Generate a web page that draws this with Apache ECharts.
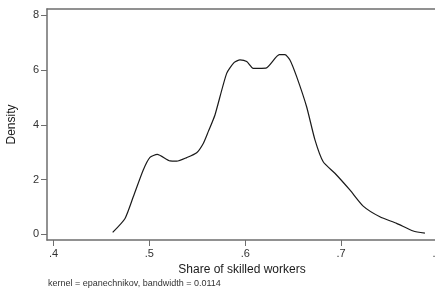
<!DOCTYPE html>
<html>
<head>
<meta charset="utf-8">
<script src="https://cdn.jsdelivr.net/npm/echarts@6/dist/echarts.min.js"></script>
<style>
  html, body { margin: 0; padding: 0; background: #fff; }
  #chart { width: 435px; height: 293px; }
</style>
</head>
<body>
<div id="chart"></div>
<script>
// kernel density
var share = [0.4617, 0.4746, 0.4832, 0.4936, 0.5006, 0.5082, 0.5215, 0.5285, 0.5389, 0.5493,
             0.5562, 0.5614, 0.5684, 0.5806, 0.5885, 0.5945, 0.6015, 0.6083, 0.6216, 0.6355,
             0.6414, 0.6466, 0.6536, 0.6640, 0.6727, 0.6813, 0.6935, 0.7091, 0.7230, 0.7404,
             0.7579, 0.7752, 0.7874];
var density = [0.07, 0.58, 1.37, 2.35, 2.81, 2.92, 2.68, 2.67, 2.80, 2.98,
               3.32, 3.75, 4.36, 5.88, 6.28, 6.37, 6.31, 6.06, 6.07, 6.56,
               6.56, 6.37, 5.76, 4.66, 3.45, 2.65, 2.23, 1.62, 1.03, 0.64,
               0.40, 0.12, 0.04];
var xTicks = [0.4, 0.5, 0.6, 0.7, 0.8];
var yTicks = [0, 2, 4, 6, 8];

var font = '"Liberation Sans", Arial, sans-serif';
var axisGray = '#6e6e6e';

var pts = [];
for (var i = 0; i < share.length; i++) {
  pts.push([share[i], density[i]]);
}

var chart = echarts.init(document.getElementById('chart'), null, { renderer: 'canvas' });
chart.setOption({
  backgroundColor: '#ffffff',
  animation: false,
  grid: { left: 47, top: 9, width: 390, height: 231, outerBoundsMode: 'none', containLabel: false },
  xAxis: [{
    type: 'value',
    min: 0.3932,
    max: 0.8,
    name: 'Share of skilled workers',
    nameLocation: 'middle',
    nameGap: 22,
    nameTextStyle: { fontFamily: font, fontSize: 12, color: '#1a1a1a' },
    axisLine: { show: true, onZero: false, lineStyle: { color: axisGray, width: 1.5 } },
    axisTick: { show: true, length: 6, customValues: xTicks, lineStyle: { color: axisGray } },
    axisLabel: {
      customValues: xTicks,
      margin: 8,
      fontFamily: font, fontSize: 11, color: '#333',
      formatter: function (v) { return String(+v.toFixed(1)).replace(/^0/, ''); }
    },
    splitLine: { show: false }
  }, {
    // top border of the plot region
    type: 'value',
    position: 'top',
    min: 0.3932,
    max: 0.8,
    axisLine: { show: true, onZero: false, lineStyle: { color: axisGray, width: 1.5 } },
    axisTick: { show: false },
    axisLabel: { show: false },
    splitLine: { show: false }
  }],
  yAxis: {
    type: 'value',
    min: -0.208,
    max: 8.23,
    name: 'Density',
    nameLocation: 'middle',
    nameGap: 29,
    nameTextStyle: { fontFamily: font, fontSize: 12, color: '#1a1a1a' },
    axisLine: { show: true, onZero: false, lineStyle: { color: axisGray, width: 1.5 } },
    axisTick: { show: true, length: 6, customValues: yTicks, lineStyle: { color: axisGray } },
    axisLabel: {
      customValues: yTicks,
      margin: 8,
      fontFamily: font, fontSize: 11, color: '#333'
    },
    splitLine: { show: false }
  },
  series: [{
    type: 'line',
    data: pts,
    smooth: 0.2,
    showSymbol: false,
    lineStyle: { color: '#1a1a1a', width: 1.2 }
  }],
  graphic: [{
    type: 'text',
    left: 48,
    top: 279,
    style: {
      text: 'kernel = epanechnikov, bandwidth = 0.0114',
      font: '9px "Liberation Sans", Arial, sans-serif',
      fill: '#333'
    }
  }]
});
</script>
</body>
</html>
